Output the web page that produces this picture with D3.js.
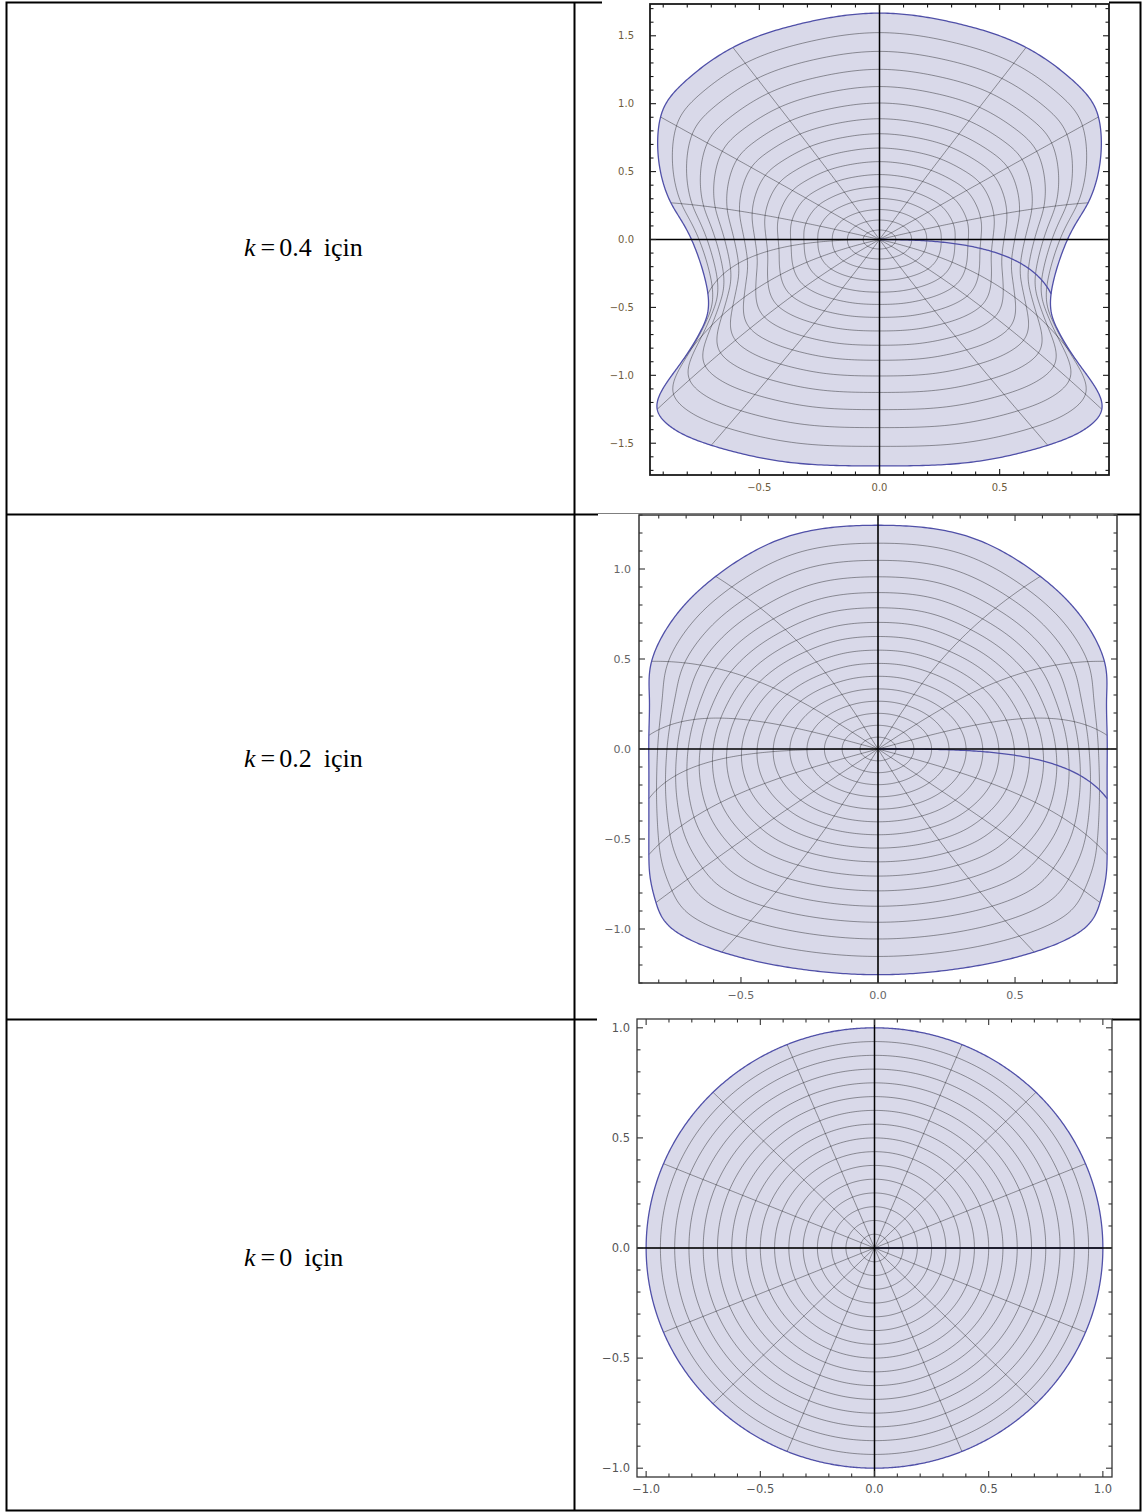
<!DOCTYPE html>
<html>
<head>
<meta charset="utf-8">
<script src="https://cdn.jsdelivr.net/npm/d3@7"></script>
<style>
  body { margin: 0; background: #fff; }
  svg { display: block; }
</style>
</head>
<body>
<svg id="page" width="1147" height="1512"></svg>
<script>
// ---- parameter values shown in the left column ----
const kValues = [0.4, 0.2, 0];
const kLabels = ["0.4", "0.2", "0"];

// ---- image of the unit circle f(e^{it}), right half, t = 90°, 78.75°, ..., -90° ----
// (the left half is the mirror image in the imaginary axis)
const boundaryK04 = [
  [0.000, 1.667], [0.330, 1.588], [0.610, 1.414], [0.820, 1.146],
  [0.911, 0.902], [0.918, 0.570], [0.868, 0.270], [0.785, 0.010],
  [0.714, -0.400], [0.740, -0.660], [0.815, -0.880], [0.895, -1.080],
  [0.925, -1.250], [0.860, -1.390], [0.700, -1.515], [0.380, -1.640],
  [0.000, -1.667]
];
const boundaryK02 = [
  [0.000, 1.243], [0.330, 1.180], [0.592, 0.959], [0.745, 0.727],
  [0.826, 0.487], [0.834, 0.280], [0.836, 0.076], [0.836, -0.100],
  [0.836, -0.276], [0.836, -0.432], [0.836, -0.587], [0.831, -0.717],
  [0.810, -0.853], [0.750, -1.000], [0.570, -1.128], [0.310, -1.217],
  [0.000, -1.254]
];
const boundaryK0 = [
  [0.0000, 1.0000], [0.1951, 0.9808], [0.3827, 0.9239], [0.5556, 0.8315],
  [0.7071, 0.7071], [0.8315, 0.5556], [0.9239, 0.3827], [0.9808, 0.1951],
  [1.0000, 0.0000], [0.9808, -0.1951], [0.9239, -0.3827], [0.8315, -0.5556],
  [0.7071, -0.7071], [0.5556, -0.8315], [0.3827, -0.9239], [0.1951, -0.9808],
  [0.0000, -1.0000]
];
// scale of the map at the origin, and how fast the rings take on the rim's shape
const centerScale = [1.10, 1.05, 1.00];
const rimExponent = [1.2, 2.0, 1.0];

// ---- frame tick labels ----
const xTicks1 = [-0.5, 0, 0.5];
const yTicks1 = [-1.5, -1, -0.5, 0, 0.5, 1, 1.5];
const xTicks2 = [-0.5, 0, 0.5];
const yTicks2 = [-1, -0.5, 0, 0.5, 1];
const xTicks3 = [-1, -0.5, 0, 0.5, 1];
const yTicks3 = [-1, -0.5, 0, 0.5, 1];

// mesh: 16 rays (t = m·2π/16) and 15 interior circles (r = j/16)
const RAYS = 16, RINGS = 16;

const svg = d3.select("#page");

// ---------- table ----------
const T = { left: 6.5, right: 1140.5, top: 2.5, bottom: 1510.5, split: 574.5, rows: [514.5, 1019.5] };
const border = svg.append("g").attr("stroke", "#000").attr("stroke-width", 2).attr("fill", "none");
border.append("rect").attr("x", T.left).attr("y", T.top)
  .attr("width", T.right - T.left).attr("height", T.bottom - T.top);
border.append("line").attr("x1", T.split).attr("x2", T.split).attr("y1", T.top).attr("y2", T.bottom);
T.rows.forEach(yy => border.append("line").attr("x1", T.left).attr("x2", T.right).attr("y1", yy).attr("y2", yy));

// ---------- row captions ----------
const captionY = [256, 767, 1266];
kLabels.forEach((lab, i) => {
  const t = svg.append("text")
    .attr("x", 244).attr("y", captionY[i])
    .attr("font-family", "'Liberation Serif', 'Times New Roman', serif")
    .attr("font-size", 26).attr("fill", "#000");
  t.append("tspan").attr("font-style", "italic").text("k");
  t.append("tspan").attr("dx", 5).text("=");
  t.append("tspan").attr("dx", 4).text(lab);
  t.append("tspan").attr("dx", 12).text("için");
});

// ---------- rim curve through the samples (closed cubic spline in t) ----------
function periodicSpline(vals) {
  const N = vals.length, M = new Array(N).fill(0);
  const rhs = vals.map((v, i) => 6 * (vals[(i + 1) % N] - 2 * v + vals[(i - 1 + N) % N]));
  for (let it = 0; it < 300; it++)
    for (let i = 0; i < N; i++) M[i] = (rhs[i] - M[(i - 1 + N) % N] - M[(i + 1) % N]) / 4;
  return s => {
    const i = Math.floor(s) % N, u = s - Math.floor(s), j = (i + 1) % N;
    return vals[i] * (1 - u) + vals[j] * u +
      ((Math.pow(1 - u, 3) - (1 - u)) * M[i] + (u * u * u - u) * M[j]) / 6;
  };
}

function rimCurve(rightHalf) {
  const N = 32;
  const pts = new Array(N);
  const idx = deg => ((Math.round(deg / 11.25) % N) + N) % N;
  rightHalf.forEach((p, i) => {
    const tDeg = 90 - i * 11.25;
    pts[idx(tDeg)] = p;
    pts[idx(180 - tDeg)] = [-p[0], p[1]];
  });
  const sx = periodicSpline(pts.map(p => p[0]));
  const sy = periodicSpline(pts.map(p => p[1]));
  return t => {
    let s = t / (2 * Math.PI) * N;
    s = ((s % N) + N) % N;
    return [sx(s), sy(s)];
  };
}

// point of the mesh at polar parameters (r, t)
function buildMap(rightHalf, c, p) {
  const B = rimCurve(rightHalf);
  return (r, t) => {
    const b = B(t), w = Math.pow(r, p);
    return [r * ((1 - w) * c * Math.cos(t) + w * b[0]),
            r * ((1 - w) * c * Math.sin(t) + w * b[1])];
  };
}

// ---------- panels ----------
const panels = [
  { boundary: boundaryK04, left: 650, right: 1109, top: 4, bottom: 475, xMax: 0.955, yMax: 1.734,
    xTicks: xTicks1, yTicks: yTicks1, labelColor: "#6e5c3c", fontSize: 10, labelGap: 16,
    frameColor: "#1a1a1a", frameWidth: 1.8, canvas: [602, 0, 1109, 505] },
  { boundary: boundaryK02, left: 639, right: 1117, top: 515, bottom: 983, xMax: 0.872, yMax: 1.30,
    xTicks: xTicks2, yTicks: yTicks2, labelColor: "#666", fontSize: 11, labelGap: 8,
    frameColor: "#333", frameWidth: 1.5, canvas: [598, 514, 1117, 1008] },
  { boundary: boundaryK0, left: 637, right: 1112, top: 1019, bottom: 1477, xMax: 1.04, yMax: 1.04,
    xTicks: xTicks3, yTicks: yTicks3, labelColor: "#555", fontSize: 11.5, labelGap: 7,
    frameColor: "#333", frameWidth: 1.3, canvas: [597, 1018, 1112, 1505] }
];

const fmt = d3.format(".1f");

panels.forEach((p, pi) => {
  const g = svg.append("g");
  // the plot's own white canvas sits over the table lines
  g.append("rect").attr("x", p.canvas[0]).attr("y", p.canvas[1])
    .attr("width", p.canvas[2] - p.canvas[0]).attr("height", p.canvas[3] - p.canvas[1])
    .attr("fill", "#fff");

  const x = d3.scaleLinear().domain([-p.xMax, p.xMax]).range([p.left, p.right]);
  const y = d3.scaleLinear().domain([-p.yMax, p.yMax]).range([p.bottom, p.top]);
  const f = buildMap(p.boundary, centerScale[pi], rimExponent[pi]);
  const line = d3.line().x(d => x(d[0])).y(d => y(d[1]));

  // filled region
  const edge = d3.range(0, 961).map(i => f(1, 2 * Math.PI * i / 960));
  g.append("path").attr("d", line(edge) + "Z").attr("fill", "#d9d9e9").attr("stroke", "none");

  // circles |z| = j/16
  const mesh = g.append("g").attr("fill", "none").attr("stroke", "#000")
    .attr("stroke-opacity", 0.42).attr("stroke-width", 0.9);
  for (let j = 1; j < RINGS; j++) {
    const r = j / RINGS;
    const ring = d3.range(0, 481).map(i => f(r, 2 * Math.PI * i / 480));
    mesh.append("path").attr("d", line(ring) + "Z");
  }
  // rays arg z = m·2π/16
  for (let m = 1; m < RAYS; m++) {
    const t = 2 * Math.PI * m / RAYS;
    const ray = d3.range(0, 121).map(i => f(i / 120, t));
    mesh.append("path").attr("d", line(ray));
  }

  // boundary of the parameter rectangle: t = 0 edge and r = 1 edge
  const rim = g.append("g").attr("fill", "none").attr("stroke", "#5050a8").attr("stroke-width", 1.3);
  rim.append("path").attr("d", line(d3.range(0, 121).map(i => f(i / 120, 0))));
  rim.append("path").attr("d", line(edge) + "Z");

  // axes through the origin
  const ax = g.append("g").attr("stroke", "#000").attr("stroke-width", 1.5);
  ax.append("line").attr("x1", p.left).attr("x2", p.right).attr("y1", y(0)).attr("y2", y(0));
  ax.append("line").attr("x1", x(0)).attr("x2", x(0)).attr("y1", p.top).attr("y2", p.bottom);

  // frame with inward ticks on all sides
  const fr = g.append("g").attr("stroke", p.frameColor).attr("fill", "none");
  fr.append("rect").attr("x", p.left).attr("y", p.top)
    .attr("width", p.right - p.left).attr("height", p.bottom - p.top)
    .attr("stroke-width", p.frameWidth);
  const minorX = d3.range(-10, 11).map(i => i / 10).filter(v => Math.abs(v) <= p.xMax);
  const minorY = d3.range(-20, 21).map(i => i / 10).filter(v => Math.abs(v) <= p.yMax);
  const isMajor = v => Math.abs(v * 2 - Math.round(v * 2)) < 1e-9;
  minorX.forEach(v => {
    const L = isMajor(v) ? 6 : 3.5;
    fr.append("line").attr("x1", x(v)).attr("x2", x(v)).attr("y1", p.bottom).attr("y2", p.bottom - L).attr("stroke-width", 1.1);
    fr.append("line").attr("x1", x(v)).attr("x2", x(v)).attr("y1", p.top).attr("y2", p.top + L).attr("stroke-width", 1.1);
  });
  minorY.forEach(v => {
    const L = isMajor(v) ? 6 : 3.5;
    fr.append("line").attr("y1", y(v)).attr("y2", y(v)).attr("x1", p.left).attr("x2", p.left + L).attr("stroke-width", 1.1);
    fr.append("line").attr("y1", y(v)).attr("y2", y(v)).attr("x1", p.right).attr("x2", p.right - L).attr("stroke-width", 1.1);
  });

  // tick labels
  const lab = g.append("g").attr("font-family", "'DejaVu Sans', Verdana, sans-serif")
    .attr("font-size", p.fontSize).attr("fill", p.labelColor);
  p.xTicks.forEach(v => {
    lab.append("text").attr("x", x(v)).attr("y", p.bottom + 16).attr("text-anchor", "middle").text(fmt(v));
  });
  p.yTicks.forEach(v => {
    lab.append("text").attr("x", p.left - p.labelGap).attr("y", y(v)).attr("dy", "0.35em")
      .attr("text-anchor", "end").text(fmt(v));
  });
});
</script>
</body>
</html>
